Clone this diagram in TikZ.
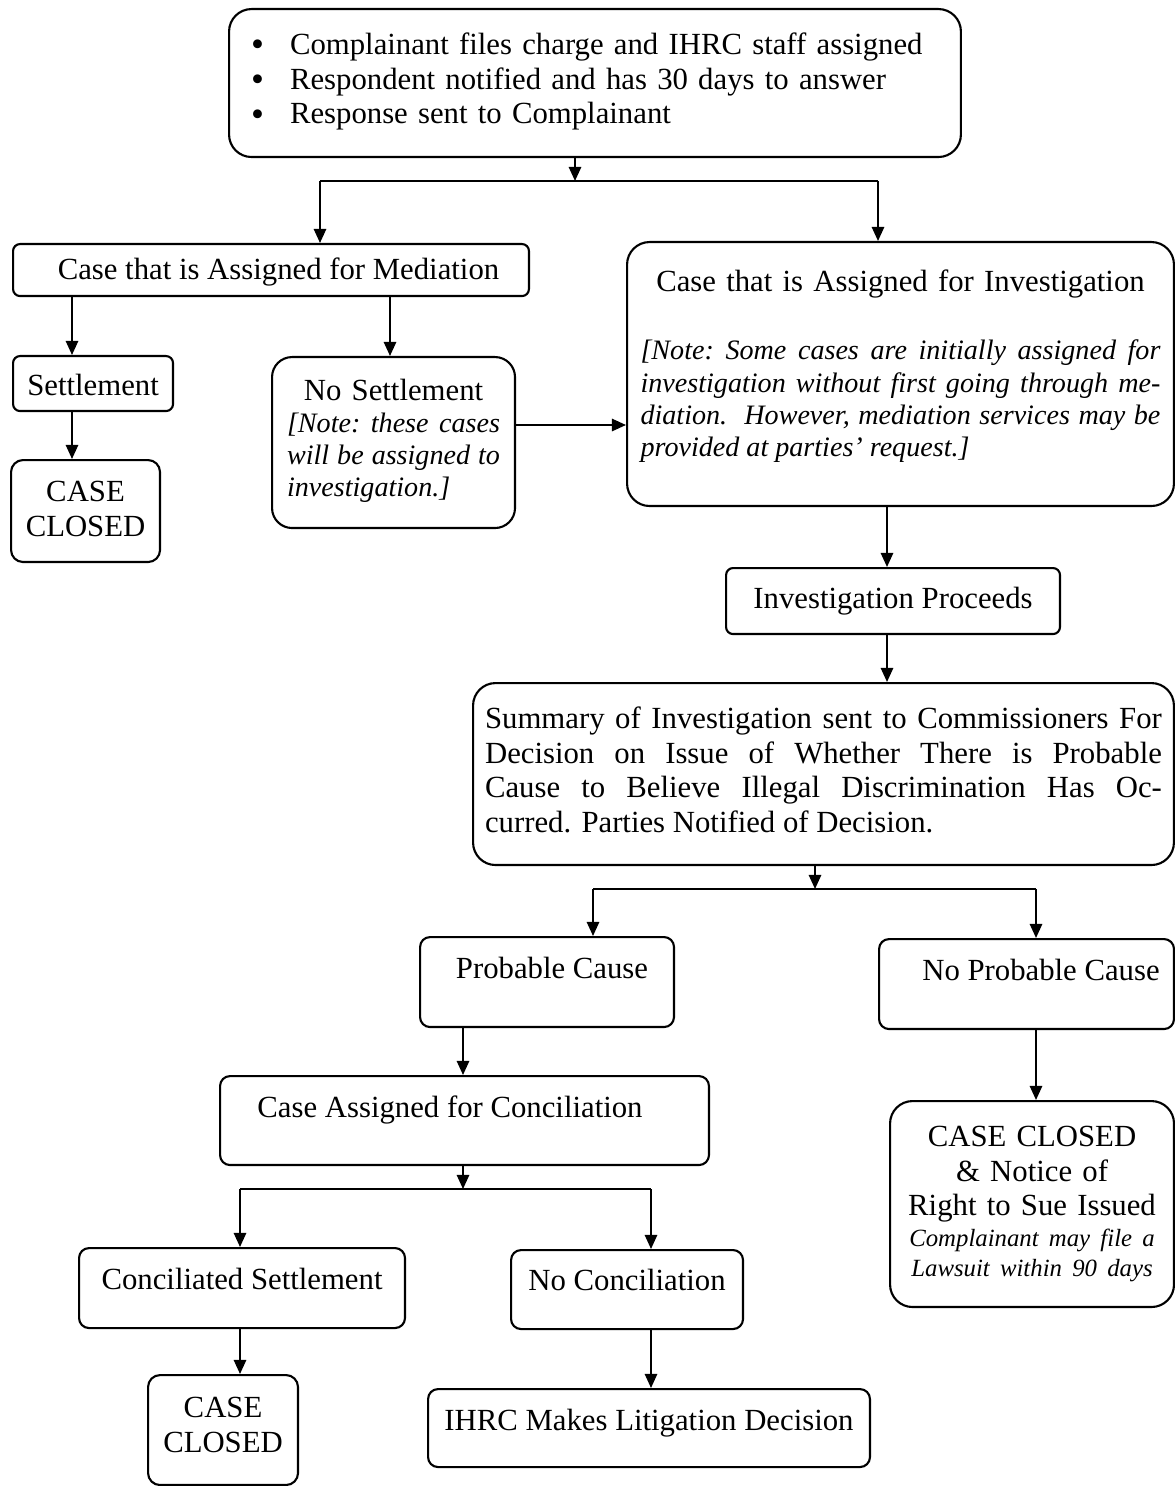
\documentclass[tikz,border=0pt]{standalone}
\usepackage{fontspec}
\setmainfont{Liberation Serif}
\usetikzlibrary{arrows.meta}

\newcommand\notefont{\itshape\fontsize{16}{18.4}\selectfont\frenchspacing\spaceskip=0.25em plus 0.4em minus 0.08em}
\newcommand\smallnote{\itshape\fontsize{14.1}{17.1}\selectfont}
\newcommand\fullline[1]{\makebox[\linewidth][s]{#1}}
\newcommand\bigbullet{\makebox[0.78cm][l]{\raisebox{-1.2pt}[0pt][0pt]{\fontsize{21}{19.9}\selectfont\textbullet}}}

\tikzset{
  box/.style={draw, line width=1.2pt, rounded corners=0.14cm, anchor=north west,
    inner xsep=0.2cm, inner ysep=0pt, font=\fontsize{17.5}{19.9}\selectfont},
  rbox/.style={box, rounded corners=0.45cm},
  flow/.style={line width=1.1pt}
}

\begin{document}
\begin{tikzpicture}[x=0.02cm, y=-0.02cm, >={Triangle[length=8pt,width=7pt]}]
  \useasboundingbox (0,0) rectangle (1175,1486);

  % Intake
  \node[rbox, inner xsep=0.44cm, text width=13.76cm, align=left,
        text height=0.9cm, text depth=2.06cm] (intake) at (228,8)
    {\bigbullet Complainant files charge and IHRC staff assigned\\
     \bigbullet Respondent notified and has 30 days to answer\\
     \bigbullet Response sent to Complainant};

  % Mediation branch
  \node[box, minimum width=10.32cm, text height=0.7cm, text depth=0.34cm] (mediation) at (12,243)
    {\hspace*{0.3cm}Case that is Assigned for Mediation};
  \node[box, minimum width=3.2cm, text height=0.78cm, text depth=0.32cm] (settle) at (12,355) {Settlement};
  \node[box, rounded corners=0.24cm, text width=2.58cm, align=center,
        text height=0.82cm, text depth=1.22cm] (closedA) at (10,459) {CASE\\CLOSED};
  \node[rbox, rounded corners=0.4cm, inner xsep=0.3cm, text width=4.26cm, align=center,
        text height=0.86cm, text depth=2.56cm] (noset) at (271,356)
    {No Settlement\\[-0.06cm]
     \parbox[t]{4.26cm}{\notefont\fullline{[Note: these cases}\\
       \fullline{will be assigned to}\\
       investigation.]}};

  % Investigation branch
  \node[rbox, inner xsep=0.27cm, text width=10.4cm, align=center,
        text height=0.98cm, text depth=4.3cm] (investigation) at (626,241)
    {Case that is Assigned for Investigation\\[0.68cm]
     \parbox[t]{10.4cm}{\notefont\fullline{[Note: Some cases are initially assigned for}\\
       \fullline{investigation without first going through me-}\\
       \fullline{diation.\ \ However, mediation services may be}\\
       provided at parties' request.]}};
  \node[box, minimum width=6.68cm, text height=0.8cm, text depth=0.52cm] (proceeds) at (725,567)
    {Investigation Proceeds};
  \node[rbox, inner xsep=0.24cm, text width=13.54cm, align=justify,
        text height=0.9cm, text depth=2.74cm] (summary) at (472,682)
    {Summary of Investigation sent to Commissioners  For\linebreak
     Decision on Issue of Whether There is Probable\linebreak
     Cause to Believe Illegal Discrimination Has Oc-\linebreak
     curred.  Parties Notified of Decision.};

  % Decision
  \node[box, rounded corners=0.2cm, minimum width=5.08cm, text height=0.82cm, text depth=0.98cm] (probable) at (419,936)
    {\hspace*{0.2cm}Probable Cause};
  \node[box, rounded corners=0.2cm, minimum width=5.9cm, text height=0.82cm, text depth=0.98cm] (noprobable) at (878,938)
    {\hspace*{0.58cm}No Probable Cause};
  \node[box, rounded corners=0.2cm, minimum width=9.78cm, text height=0.82cm, text depth=0.96cm] (conciliation) at (219,1075)
    {Case Assigned for Conciliation\hspace*{0.58cm}};
  \node[rbox, text width=5.28cm, align=center, text height=0.9cm, text depth=3.22cm] (closedB) at (889,1100)
    {CASE CLOSED\\ \& Notice of\\ Right to Sue Issued\\[-0.08cm]
     \parbox[t]{5.28cm}{\centering\smallnote Complainant may file a\\ Lawsuit within 90 days}};

  % Conciliation
  \node[box, rounded corners=0.2cm, minimum width=6.52cm, text height=0.82cm, text depth=0.78cm] (consettle) at (78,1247)
    {Conciliated Settlement};
  \node[box, rounded corners=0.2cm, minimum width=4.64cm, text height=0.8cm, text depth=0.78cm] (nocon) at (510,1249)
    {No Conciliation};
  \node[box, rounded corners=0.24cm, text width=2.6cm, align=center,
        text height=0.84cm, text depth=1.36cm] (closedC) at (147,1374) {CASE\\CLOSED};
  \node[box, rounded corners=0.2cm, minimum width=8.84cm, text height=0.82cm, text depth=0.74cm] (litigation) at (427,1388)
    {IHRC Makes Litigation Decision};

  % Split points
  \coordinate (split1) at (575,181);
  \coordinate (split1L) at (320,181);
  \coordinate (split1R) at (878,181);
  \coordinate (split2) at (815,889);
  \coordinate (split2L) at (593,889);
  \coordinate (split2R) at (1036,889);
  \coordinate (split3) at (463,1189);
  \coordinate (split3L) at (240,1189);
  \coordinate (split3R) at (651,1189);

  % Connectors
  \draw[flow,->] (intake.south -| split1) -- (split1);
  \draw[flow] (split1L) -- (split1R);
  \draw[flow,->] (split1L) -- (split1L |- mediation.north);
  \draw[flow,->] (split1R) -- (split1R |- investigation.north);
  \draw[flow,->] (mediation.south -| 72,0) -- (settle.north -| 72,0);
  \draw[flow,->] (settle.south -| 72,0) -- (closedA.north -| 72,0);
  \draw[flow,->] (mediation.south -| 390,0) -- (noset.north -| 390,0);
  \draw[flow,->] (noset.east |- 0,425) -- (investigation.west |- 0,425);
  \draw[flow,->] (investigation.south -| 887,0) -- (proceeds.north -| 887,0);
  \draw[flow,->] (proceeds.south -| 887,0) -- (summary.north -| 887,0);

  \draw[flow,->] (summary.south -| split2) -- (split2);
  \draw[flow] (split2L) -- (split2R);
  \draw[flow,->] (split2L) -- (split2L |- probable.north);
  \draw[flow,->] (split2R) -- (split2R |- noprobable.north);
  \draw[flow,->] (probable.south -| 463,0) -- (conciliation.north -| 463,0);
  \draw[flow,->] (noprobable.south -| 1036,0) -- (closedB.north -| 1036,0);

  \draw[flow,->] (conciliation.south -| split3) -- (split3);
  \draw[flow] (split3L) -- (split3R);
  \draw[flow,->] (split3L) -- (split3L |- consettle.north);
  \draw[flow,->] (split3R) -- (split3R |- nocon.north);
  \draw[flow,->] (consettle.south -| 240,0) -- (closedC.north -| 240,0);
  \draw[flow,->] (nocon.south -| 651,0) -- (litigation.north -| 651,0);
\end{tikzpicture}
\end{document}
